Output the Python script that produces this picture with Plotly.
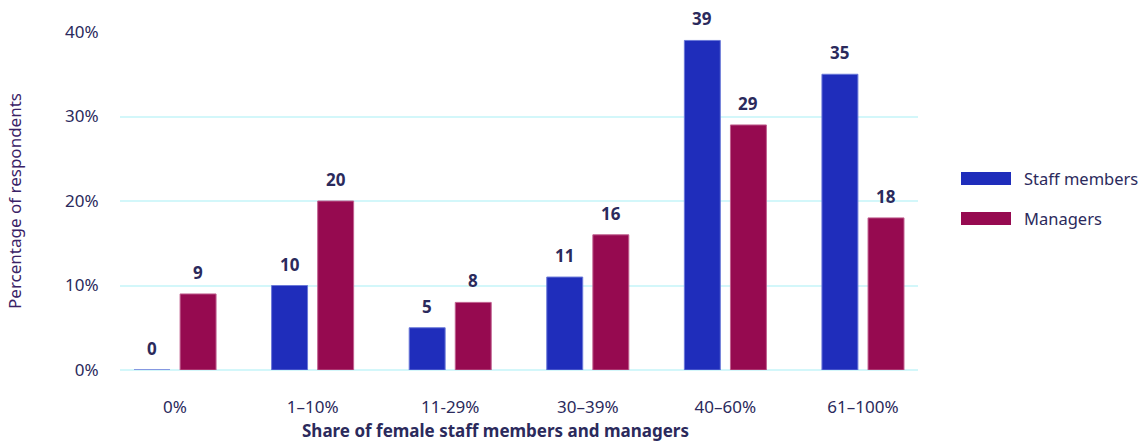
import plotly.graph_objects as go

categories = ["0%", "1–10%", "11-29%", "30–39%", "40–60%", "61–100%"]
staff = [0, 10, 5, 11, 39, 35]
managers = [9, 20, 8, 16, 29, 18]
series_names = ["Staff members", "Managers"]
y_ticks = [0, 10, 20, 30, 40]
y_tick_labels = ["0%", "10%", "20%", "30%", "40%"]

STAFF_C = "#1F2DBB"
MAN_C = "#960A50"
TXT = "#2B2A5C"
FONT = "Noto Sans"
FS = 17

W, H = 1146, 443
L, R, T, B = 120, 918, 32, 370


def px(xp):
    return (xp - L) / (R - L)


def py(yp):
    return (B - yp) / (B - T)


fig = go.Figure()
fig.add_trace(go.Bar(x=categories, y=staff, name=series_names[0], marker_color=STAFF_C,
                     marker_line=dict(color="#6A78D8", width=1), showlegend=False))
fig.add_trace(go.Bar(x=categories, y=managers, name=series_names[1], marker_color=MAN_C,
                     marker_line=dict(color="#C0608F", width=1), showlegend=False))

annotations = []
for i, c in enumerate(categories):
    for vals, xs in ((staff, -23), (managers, 23)):
        annotations.append(dict(x=c, y=vals[i], xref="x", yref="y", text=f"<b>{vals[i]}</b>",
                                showarrow=False, xshift=xs, yshift=8, yanchor="bottom",
                                font=dict(family=FONT, size=FS, color=TXT)))

annotations.append(dict(x=px(495), y=py(443), xref="paper", yref="paper",
                        text="<b>Share of female staff members and managers</b>",
                        showarrow=False, yanchor="bottom", borderpad=0,
                        font=dict(family=FONT, size=FS, color=TXT)))

shapes = []
for name, col, yc in ((series_names[0], STAFF_C, 178.5), (series_names[1], MAN_C, 218.5)):
    shapes.append(dict(type="rect", xref="paper", yref="paper", x0=px(961), x1=px(1011),
                       y0=py(yc + 6.5), y1=py(yc - 6.5), fillcolor=col, line=dict(width=0)))
    annotations.append(dict(x=px(1022), y=py(yc), xref="paper", yref="paper", text=name,
                            showarrow=False, xanchor="left", yanchor="middle",
                            font=dict(family=FONT, size=16.5, color=TXT)))

fig.update_layout(
    width=W, height=H,
    margin=dict(l=L, r=W - R, t=T, b=H - B),
    plot_bgcolor="white", paper_bgcolor="white",
    barmode="group", bargap=0.33, bargroupgap=0.22,
    font=dict(family=FONT, size=FS, color=TXT),
    annotations=annotations, shapes=shapes,
    xaxis=dict(range=[-0.4, 5.4], showgrid=False, zeroline=False, showline=False,
               ticks="outside", ticklen=22, tickcolor="rgba(0,0,0,0)",
               tickfont=dict(family=FONT, size=FS, color=TXT)),
    yaxis=dict(range=[0, 40], tickvals=y_ticks, ticktext=y_tick_labels,
               showgrid=True, gridcolor="#D3F7FA", gridwidth=2, zeroline=True,
               zerolinecolor="#D3F7FA", zerolinewidth=2,
               ticks="outside", ticklen=17, tickcolor="rgba(0,0,0,0)",
               tickfont=dict(family=FONT, size=FS, color=TXT),
               title=dict(text="Percentage of respondents", standoff=39,
                          font=dict(family=FONT, size=FS, color="#3A2266"))),
)

fig.write_html("out.html", config={"displayModeBar": False},
               post_script="document.body.style.margin='0';")
